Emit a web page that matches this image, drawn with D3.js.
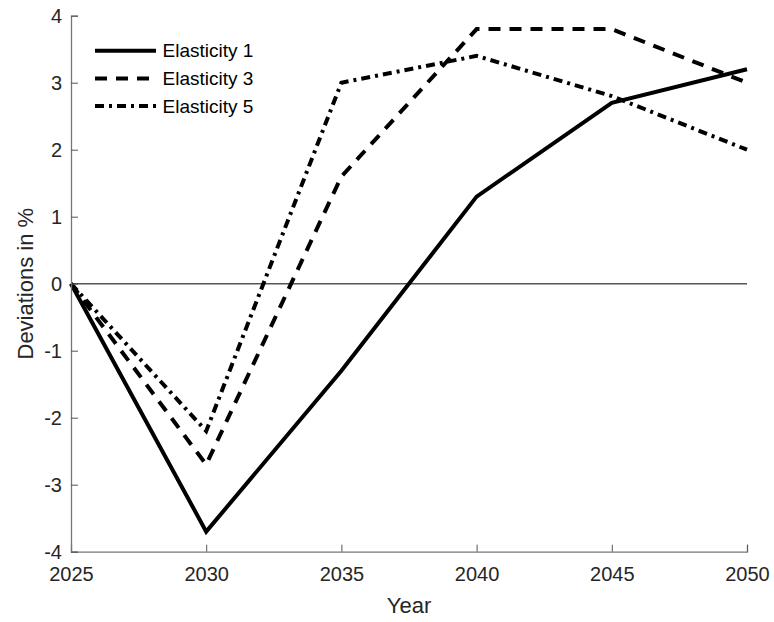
<!DOCTYPE html>
<html>
<head>
<meta charset="utf-8">
<script src="https://cdn.jsdelivr.net/npm/d3@7"></script>
<style>
	body { margin: 0; background: #fff; }
	text { font-family: "Liberation Sans", Arial, sans-serif; fill: #262626; }
</style>
</head>
<body>
<div id="chart"></div>
<script>
const years = [2025, 2030, 2035, 2040, 2045, 2050];
const elasticity1 = [0, -3.7, -1.3, 1.3, 2.7, 3.2];
const elasticity3 = [0, -2.7, 1.6, 3.8, 3.8, 3.0];
const elasticity5 = [0, -2.2, 3.0, 3.4, 2.8, 2.0];
const yTicks = [-4, -3, -2, -1, 0, 1, 2, 3, 4];
const seriesNames = ["Elasticity 1", "Elasticity 3", "Elasticity 5"];

const width = 774;
const height = 622;
const margin = {top: 15.7, right: 27, bottom: 70.3, left: 71};
const innerW = width - margin.left - margin.right;
const innerH = height - margin.top - margin.bottom;

const dashes = ["none", "12,9", "9,5,3,5"];
const series = [elasticity1, elasticity3, elasticity5];

const svg = d3.select("#chart")
	.append("svg")
	.attr("width", width)
	.attr("height", height);

const g = svg.append("g")
	.attr("transform", "translate(" + margin.left + "," + margin.top + ")");

let x = d3.scaleLinear().domain([2025, 2050]).range([0, innerW]);
let y = d3.scaleLinear().domain([-4, 4]).range([innerH, 0]);

// zero line
g.append("line")
	.attr("x1", 0)
	.attr("x2", innerW)
	.attr("y1", y(0))
	.attr("y2", y(0))
	.style("stroke", "#555")
	.style("stroke-width", 1.5);

let line = d3.line()
	.x((d, i) => x(years[i]))
	.y(d => y(d));

series.forEach((s, i) => {
	g.append("path")
		.attr("d", line(s))
		.style("fill", "none")
		.style("stroke", "#000")
		.style("stroke-width", 4)
		.style("stroke-dasharray", dashes[i]);
});

let xAxis = d3.axisBottom(x).tickValues(years).tickFormat(d3.format("d")).tickSize(-7).tickPadding(15);
let gx = g.append("g")
	.attr("transform", "translate(0," + innerH + ")")
	.call(xAxis);

// plain hyphen for negatives, like the original
let yAxis = d3.axisLeft(y).tickValues(yTicks).tickFormat(d => d < 0 ? "-" + Math.abs(d) : String(d)).tickSize(-7).tickPadding(9);
let gy = g.append("g").call(yAxis);

[gx, gy].forEach(a => {
	a.select(".domain").style("stroke", "#777").style("stroke-width", 1.3);
	a.selectAll(".tick line").style("stroke", "#555").style("stroke-width", 1);
	a.selectAll(".tick text").style("font-size", "20px").style("fill", "#262626");
	a.attr("font-family", null);
});

// labels
svg.append("text")
	.attr("x", margin.left + innerW / 2)
	.attr("y", 613)
	.attr("text-anchor", "middle")
	.style("font-size", "22px")
	.text("Year");

svg.append("text")
	.attr("transform", "translate(33," + (margin.top + innerH / 2) + ") rotate(-90)")
	.attr("text-anchor", "middle")
	.style("font-size", "22px")
	.text("Deviations in %");

// legend
const legendY = [50.7, 78.5, 106];
const legend = svg.append("g");
seriesNames.forEach((name, i) => {
	legend.append("line")
		.attr("x1", 95)
		.attr("x2", 156)
		.attr("y1", legendY[i])
		.attr("y2", legendY[i])
		.style("stroke", "#000")
		.style("stroke-width", 4)
		.style("stroke-dasharray", dashes[i]);
	legend.append("text")
		.attr("x", 162.5)
		.attr("y", legendY[i])
		.attr("dy", "0.35em")
		.style("font-size", "19px")
		.style("fill", "#000")
		.text(name);
});
</script>
</body>
</html>
